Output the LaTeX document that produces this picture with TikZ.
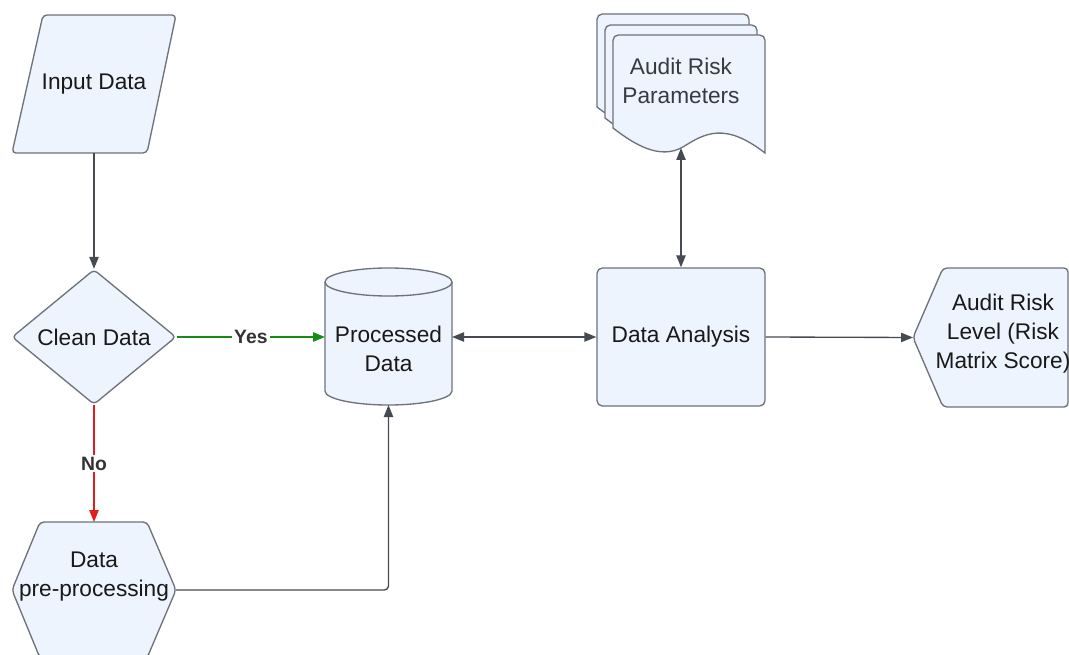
\documentclass[tikz,border=0pt]{standalone}
\usepackage{fontspec}
\setmainfont{Liberation Sans}
\usetikzlibrary{arrows.meta,shapes.geometric}
\definecolor{BoxFill}{HTML}{EEF4FD}
\definecolor{BoxLine}{HTML}{6E7279}
\definecolor{LinkGray}{HTML}{464B52}
\definecolor{YesGreen}{HTML}{168C16}
\definecolor{NoRed}{HTML}{E31B1B}
\definecolor{LabelGray}{HTML}{333333}
\definecolor{DocText}{HTML}{363B42}

\tikzset{
  outline/.style={draw=BoxLine,fill=BoxFill,line width=1pt,rounded corners=3pt},
  holder/.style={inner sep=0pt,outer sep=0pt,align=center,text=black!90},
  caption/.style={align=center,inner sep=0pt,text=black!90},
  link/.style={draw=LinkGray,line width=1pt,->},
  linklabel/.style={fill=white,inner sep=1.5pt,text=LabelGray,
                    font=\fontsize{14.5}{16}\selectfont\bfseries},
}

\begin{document}
\begin{tikzpicture}[x=0.75pt,y=-0.75pt,font=\fontsize{17}{21.75}\selectfont,
    >={Triangle[length=9pt,width=7pt]}]
  \useasboundingbox (0,0) rectangle (1069,655);
  \fill[white] (0,0) rectangle (1069,655);

  % input
  \draw[outline] (43,15) -- (176,15) -- (147,153) -- (12,153) -- cycle;
  \node[holder,minimum width=123pt,minimum height=103.5pt] (input) at (94,84) {Input Data};

  % decision
  \node[outline,diamond,inner sep=0pt,align=center,text=black!90,
        minimum width=123pt,minimum height=101.25pt] (clean) at (94,337) {Clean Data};

  % preparation
  \draw[outline] (40,522) -- (147,522) -- (176,590) -- (147,658) -- (40,658) -- (12,590) -- cycle;
  \node[holder,minimum width=123pt,minimum height=102pt] (prep) at (94,590) {};
  \node[caption] (prepText) at (94,577) {Data\\pre-processing};

  % database
  \draw[outline,rounded corners=0pt] (325,282) -- (325,391)
    arc[start angle=180,end angle=360,x radius=47.625pt,y radius=10.5pt] -- (452,282)
    arc[start angle=0,end angle=180,x radius=47.625pt,y radius=10.5pt] -- cycle;
  \draw[draw=BoxLine,line width=1pt] (325,282)
    arc[start angle=180,end angle=360,x radius=47.625pt,y radius=10.5pt];
  \node[holder,minimum width=95.25pt,minimum height=102.75pt] (proc) at (388.5,336.5) {};
  \node[caption] (procText) at (388.5,349) {Processed\\Data};

  % process
  \node[outline,rounded corners=4pt,align=center,text=black!90,
        minimum width=126pt,minimum height=103.5pt] (analysis) at (681,337) {Data Analysis};

  % multiple documents
  \foreach \dx/\dy in {16/21,8/10,0/0}
    \draw[outline,shift={(-\dx,-\dy)}] (613,128) [rounded corners=4pt] -- (613,35) -- (765,35)
      -- (765,100) [sharp corners] -- (765,153)
      .. controls (725,122) and (705,133) .. (683,147)
      .. controls (660,160) and (635,145) .. (613,128) -- cycle;
  \node[holder,text=DocText,minimum width=126pt,minimum height=100.5pt] (params) at (681,81)
    {Audit Risk\\Parameters};

  % display
  \draw[outline] (943,268) -- (1068,268) -- (1068,407) -- (943,407) -- (913,337.5) -- cycle;
  \node[holder,minimum width=116.25pt,minimum height=104.25pt] (level) at (990.5,337.5) {};
  \node[caption] (levelText) at (1003,334) {Audit Risk\\Level (Risk\\Matrix Score)};

  % connectors
  \draw[link] (input.south) -- (clean.north);
  \draw[link,YesGreen] (clean.east) -- (clean.east -| proc.west)
    node[midway,linklabel] {Yes};
  \draw[link,NoRed] (clean.south) -- (prep.north)
    node[midway,linklabel] {No};
  \draw[link,rounded corners=3pt] (prep.east) -| (proc.south);
  \draw[link,<->] (analysis.west -| proc.east) -- (analysis.west);
  \draw[link,<->] (params.south) -- (analysis.north);
  \draw[link] (analysis.east) -- (level.west);
\end{tikzpicture}
\end{document}
